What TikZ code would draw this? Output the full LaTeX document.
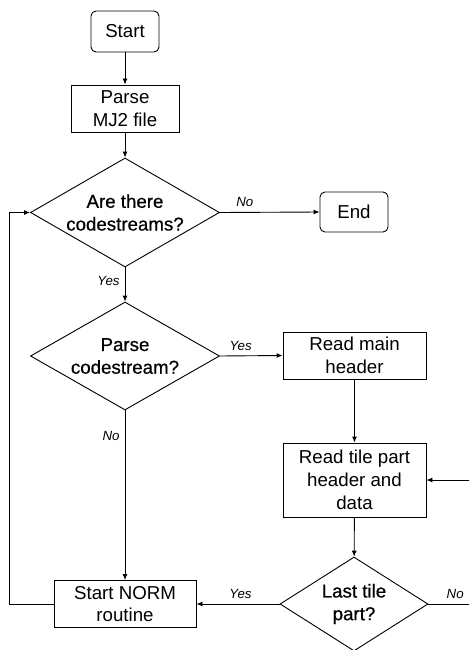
\documentclass[tikz,border=0pt]{standalone}
\usepackage{fontspec}
\setmainfont{Liberation Sans}
\newfontface\dfont{Liberation Sans}[FakeBold=0.6]
\usetikzlibrary{shapes.geometric,arrows.meta}
\begin{document}
\begin{tikzpicture}[x=1pt,y=-1pt,
  every node/.style={font=\fontsize{18.7}{22.7}\selectfont, inner sep=0pt, align=center},
  term/.style={draw, rounded corners=5pt, minimum width=68pt, minimum height=41pt},
  proc/.style={draw, minimum height=47pt},
  dec/.style={draw, diamond, aspect=1.73, font=\dfont\fontsize{18.7}{22.7}\selectfont},
  lbl/.style={font=\itshape\fontsize{13.3}{15}\selectfont},
  arr/.style={-{Latex[length=6pt,width=5pt]}, line width=0.9pt},
  line width=0.9pt]
\clip (0,0) rectangle (469,650);
\useasboundingbox (0,0) rectangle (469,650);
\node[term] (start) at (125,31.5) {Start};
\node[proc, minimum width=108pt] (parse) at (125,108.5) {Parse\\MJ2 file};
\node[dec, minimum width=189pt, minimum height=109pt] (d1) at (125,212.5) {Are there\\codestreams?};
\node[term, minimum height=40pt] (end) at (354,212) {End};
\node[dec, minimum width=189pt, minimum height=108pt] (d2) at (125,356) {Parse\\codestream?};
\node[proc, minimum width=143pt] (rmh) at (354.5,355.5) {Read main\\header};
\node[proc, minimum width=143pt, minimum height=74pt] (rtp) at (354.5,480) {Read tile part\\header and\\data};
\node[dec, minimum width=148pt, minimum height=94pt] (d3) at (354,604) {Last tile\\part?};
\node[proc, minimum width=142pt] (norm) at (125,604) {Start NORM\\routine};
\coordinate (lft) at (9,604);
\coordinate (rgt) at (473,604);
\draw[arr] (start) -- (parse);
\draw[arr] (parse) -- (d1);
\draw[arr] (d1.east) -- node[lbl, pos=0.25, above=5pt] {No} (end.west);
\draw[arr] (d1.south) -- node[lbl, pos=0.4, left=5pt] {Yes} (d2.north);
\draw[arr] (d2.east) -- node[lbl, pos=0.33, above=5pt] {Yes} (rmh.west);
\draw[arr] (d2.south) -- node[lbl, pos=0.15, left=5pt] {No} (norm.north);
\draw[arr] (rmh) -- (rtp);
\draw[arr] (rtp) -- (d3);
\draw[arr] (d3.west) -- node[lbl, pos=0.47, above=5pt] {Yes} (norm.east);
\draw[arr] (norm.west) -- (lft) |- (d1.west);
\draw (d3.east) -- node[lbl, pos=0.6, above=5pt] {No} (rgt);
\draw[arr] (rgt) |- (rtp.east);
\end{tikzpicture}
\end{document}
